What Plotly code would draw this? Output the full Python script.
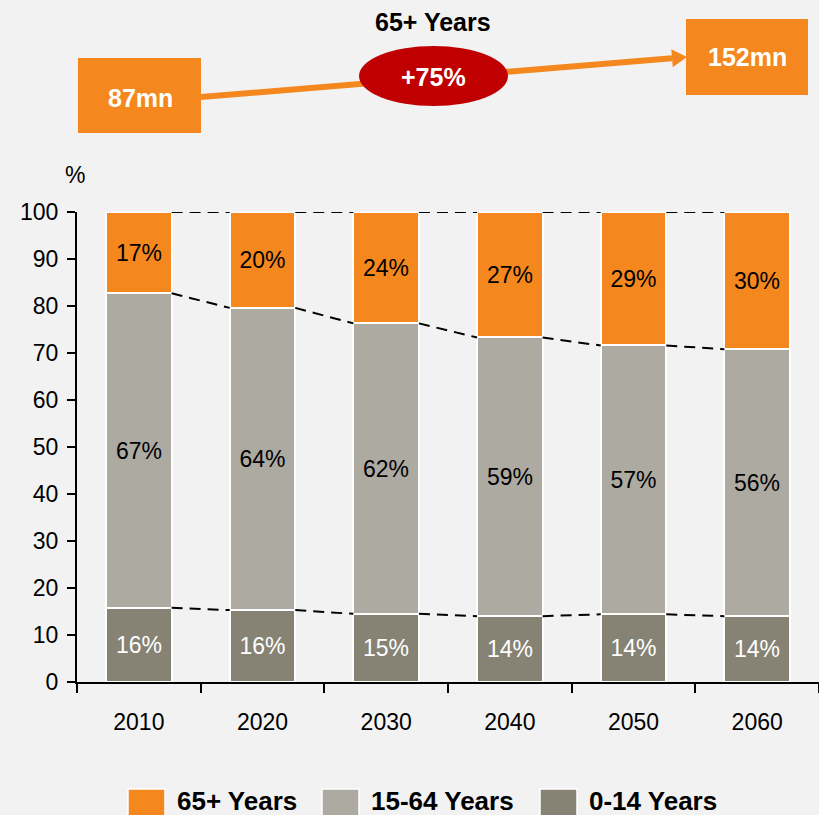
import plotly.graph_objects as go

YEARS = ["2010", "2020", "2030", "2040", "2050", "2060"]
AGE_0_14 = [15.8, 15.3, 14.5, 14.0, 14.4, 14.0]
AGE_15_64 = [66.9, 64.3, 61.8, 59.3, 57.2, 56.8]
AGE_65P = [17.3, 20.4, 23.7, 26.7, 28.4, 29.2]
LBL_0_14 = ["16%", "16%", "15%", "14%", "14%", "14%"]
LBL_15_64 = ["67%", "64%", "62%", "59%", "57%", "56%"]
LBL_65P = ["17%", "20%", "24%", "27%", "29%", "30%"]
POP_START, POP_END, GROWTH = "87mn", "152mn", "+75%"

ORANGE = "#F5871F"
LIGHT = "#ADAAA2"
DARK = "#868274"
RED = "#C00000"
BG = "#F2F2F2"
FONT = "Liberation Sans, Arial, sans-serif"

W, H = 819, 815
L, R, T, B = 77, 0, 212, 133
BAR_W = 0.53

pos = list(range(len(YEARS)))


def px(x):
    return (x - L) / (W - L - R)


def py(y):
    return (H - B - y) / (H - T - B)


fig = go.Figure()
for vals, lbls, color, tcol, name in [
    (AGE_0_14, LBL_0_14, DARK, "white", "0-14 Years"),
    (AGE_15_64, LBL_15_64, LIGHT, "black", "15-64 Years"),
    (AGE_65P, LBL_65P, ORANGE, "black", "65+ Years"),
]:
    fig.add_trace(go.Bar(
        x=pos, y=vals, width=BAR_W, name=name, text=lbls,
        textposition="inside", insidetextanchor="middle", textangle=0,
        constraintext="none",
        textfont=dict(size=23, color=tcol, family=FONT),
        marker=dict(color=color, line=dict(color="white", width=2)),
        showlegend=False, hoverinfo="skip",
    ))

# dashed connectors between bar tops
lo = AGE_0_14
mid = [a + b for a, b in zip(AGE_0_14, AGE_15_64)]
top = [100] * len(YEARS)
for level in (lo, mid, top):
    xs, ys = [], []
    for i in range(len(YEARS) - 1):
        xs += [i + BAR_W / 2, i + 1 - BAR_W / 2, None]
        ys += [level[i], level[i + 1], None]
    fig.add_trace(go.Scatter(x=xs, y=ys, mode="lines", showlegend=False,
                             line=dict(color="black", width=2, dash="11px,7px"),
                             hoverinfo="skip", cliponaxis=False))

shapes = []
ann = []

# arrow from 87mn to 152mn
x0, y0, tx, ty = 201, 97, 687, 57
dx, dy = tx - x0, ty - y0
ln = (dx ** 2 + dy ** 2) ** 0.5
ux, uy = dx / ln, dy / ln
nx, ny = -uy, ux
bx, by = tx - 15 * ux, ty - 15 * uy
shapes.append(dict(type="line", xref="paper", yref="paper",
                   x0=px(x0), y0=py(y0), x1=px(bx), y1=py(by),
                   line=dict(color=ORANGE, width=6)))
shapes.append(dict(type="path", xref="paper", yref="paper",
                   path=f"M {px(tx)} {py(ty)} L {px(bx + 9 * nx)} {py(by + 9 * ny)} "
                        f"L {px(bx - 9 * nx)} {py(by - 9 * ny)} Z",
                   fillcolor=ORANGE, line=dict(width=0)))
shapes.append(dict(type="circle", xref="paper", yref="paper",
                   x0=px(359), x1=px(508), y0=py(46), y1=py(106),
                   fillcolor=RED, line=dict(width=0)))
shapes.append(dict(type="rect", xref="paper", yref="paper",
                   x0=px(78), x1=px(201), y0=py(58), y1=py(133),
                   fillcolor=ORANGE, line=dict(width=0)))
shapes.append(dict(type="rect", xref="paper", yref="paper",
                   x0=px(686), x1=px(808), y0=py(19), y1=py(95),
                   fillcolor=ORANGE, line=dict(width=0)))

for txt, x, y, col in [(POP_START, 140, 98, "white"), (POP_END, 747, 57, "white"),
                       (GROWTH, 433, 77, "white"), ("65+ Years", 433, 22, "black")]:
    ann.append(dict(text=f"<b>{txt}</b>", x=px(x), y=py(y), xref="paper", yref="paper",
                    showarrow=False, xanchor="center", yanchor="middle",
                    font=dict(family=FONT, size=25, color=col)))

ann.append(dict(text="%", x=px(75), y=py(175), xref="paper", yref="paper",
                showarrow=False, xanchor="center", yanchor="middle",
                font=dict(family=FONT, size=23, color="black")))

# legend
for color, label, sx in [(ORANGE, "65+ Years", 128), (LIGHT, "15-64 Years", 322),
                         (DARK, "0-14 Years", 540)]:
    shapes.append(dict(type="rect", xref="paper", yref="paper",
                       x0=px(sx), x1=px(sx + 37), y0=py(789), y1=py(830),
                       fillcolor=color, line=dict(color="white", width=1.5)))
    ann.append(dict(text=f"<b>{label}</b>", x=px(sx + 47), y=py(801),
                    xref="paper", yref="paper", showarrow=False,
                    xanchor="left", yanchor="middle",
                    font=dict(family=FONT, size=26, color="black")))

fig.update_layout(
    width=W, height=H,
    margin=dict(l=L, r=R, t=T, b=B),
    paper_bgcolor=BG, plot_bgcolor=BG,
    barmode="stack", bargap=0,
    shapes=shapes, annotations=ann,
    font=dict(family=FONT, size=23, color="black"),
    xaxis=dict(range=[-0.5, 5.5], tickvals=pos, ticktext=YEARS, ticks="",
               showline=True, linecolor="black", linewidth=2,
               showgrid=False, zeroline=False, ticklabelstandoff=18,
               minor=dict(ticks="outside", tick0=-0.5, dtick=1, ticklen=9,
                          tickwidth=2, tickcolor="black", showgrid=False),
               tickfont=dict(size=23)),
    yaxis=dict(range=[0, 100], dtick=10, ticks="outside", ticklen=8, tickwidth=2,
               tickcolor="black", showline=True, linecolor="black", linewidth=2,
               showgrid=False, zeroline=False, ticklabelstandoff=4,
               tickfont=dict(size=23)),
)

fig.write_html("out.html", config={"displayModeBar": False},
               post_script="document.body.style.margin='0';")
